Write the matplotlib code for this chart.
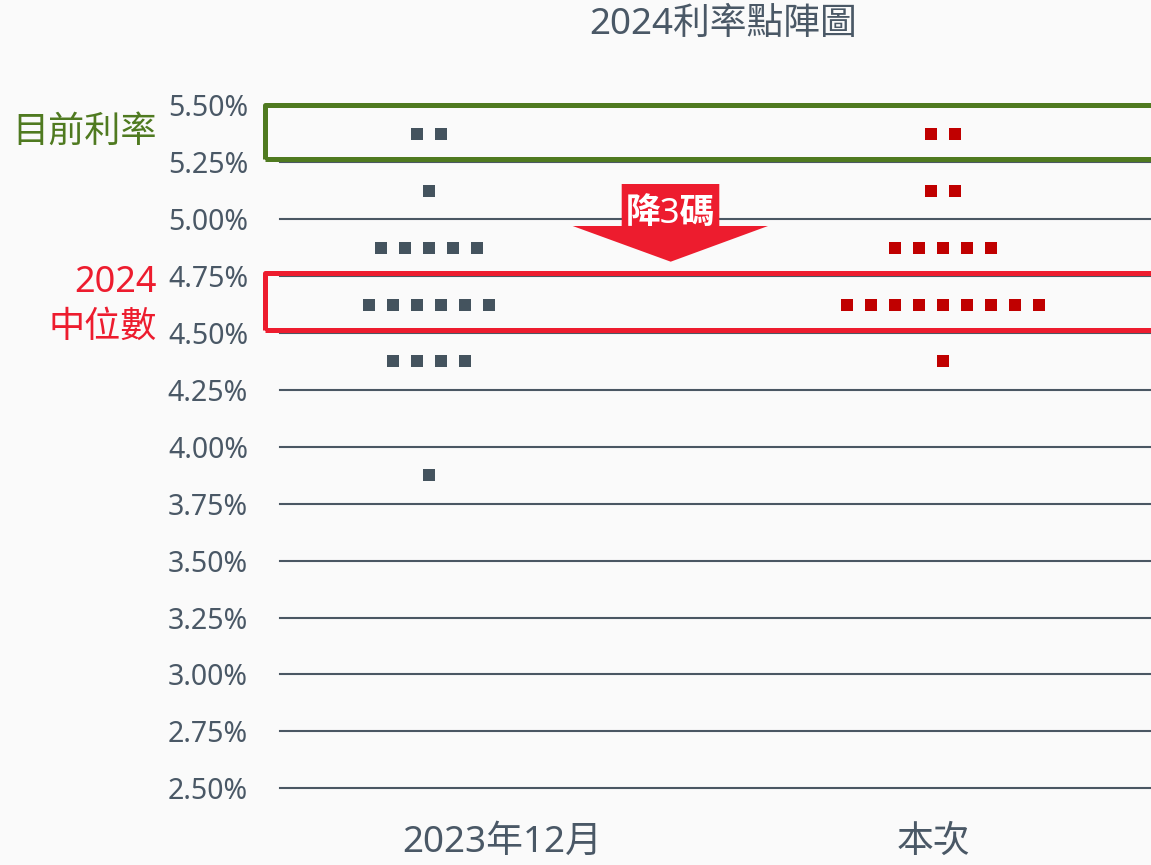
import matplotlib
matplotlib.use('Agg')
import matplotlib.pyplot as plt
from matplotlib.patches import Polygon, Rectangle
import matplotlib.transforms as mtrans

plt.rcParams['font.family'] = ['Noto Sans', 'Noto Sans CJK TC', 'DejaVu Sans']

# ---------------- data ----------------
title = '2024利率點陣圖'
categories = ['2023年12月', '本次']
rate_ticks = [2.50, 2.75, 3.00, 3.25, 3.50, 3.75, 4.00, 4.25, 4.50, 4.75, 5.00, 5.25, 5.50]
tick_labels = ['2.50%', '2.75%', '3.00%', '3.25%', '3.50%', '3.75%', '4.00%',
               '4.25%', '4.50%', '4.75%', '5.00%', '5.25%', '5.50%']

dec_rates = [5.375, 5.125, 4.875, 4.625, 4.375, 3.875]
dec_counts = [2, 1, 5, 6, 4, 1]
now_rates = [5.375, 5.125, 4.875, 4.625, 4.375]
now_counts = [2, 2, 5, 9, 1]

current_label = '目前利率'
median_label_top = '2024'
median_label_bottom = '中位數'
arrow_text = '降3碼'

# ---------------- style ----------------
BG = '#fafafa'
TEXT = '#4a5866'
GRID = '#4a5763'
DOT_DEC = '#44535e'
DOT_NOW = '#c00000'
GREEN = '#4f7a20'
RED = '#ed1c2e'

W, H = 1151, 865
fig = plt.figure(figsize=(W / 100, H / 100), dpi=100, facecolor=BG)

ax_left, ax_right = 280, 1151
ax_top, ax_bottom = 105.4, 788.3
ax = fig.add_axes([ax_left / W, (H - ax_bottom) / H, (ax_right - ax_left) / W, (ax_bottom - ax_top) / H])
ax.set_xlim(0, 2)
ax.set_ylim(2.5, 5.5)
ax.set_facecolor('none')
for s in ax.spines.values():
    s.set_visible(False)

# gridlines
for r in rate_ticks:
    ax.axhline(r, xmin=0, xmax=1, color=GRID, lw=1.5, clip_on=False, zorder=1)

# ticks
ax.set_yticks(rate_ticks, tick_labels)
ax.tick_params(axis='y', length=0, pad=23, labelsize=20.5, labelcolor=TEXT)
ax.set_xticks([0.51, 1.5], categories)
ax.tick_params(axis='x', length=0, pad=26, labelsize=26.5, labelcolor=TEXT)

# dots
px_per_unit = (ax_right - ax_left) / 2.0
spacing = 24 / px_per_unit
centers = [(428.5 - ax_left) / px_per_unit, (943 - ax_left) / px_per_unit]
msize = (12 * 0.72) ** 2


def dot_positions(rates, counts, cx):
    xs, ys = [], []
    for r, n in zip(rates, counts):
        for i in range(n):
            xs.append(cx + (i - (n - 1) / 2) * spacing)
            ys.append(r)
    return xs, ys


xs, ys = dot_positions(dec_rates, dec_counts, centers[0])
ax.scatter(xs, ys, marker='s', s=msize, color=DOT_DEC, linewidths=0, zorder=3, clip_on=False)
xs, ys = dot_positions(now_rates, now_counts, centers[1])
ax.scatter(xs, ys, marker='s', s=msize, color=DOT_NOW, linewidths=0, zorder=3, clip_on=False)

# highlight boxes (data y, data x)
box_x0 = (265 - ax_left) / px_per_unit
for (y0, y1), col in [((5.266, 5.503), GREEN), ((4.515, 4.762), RED)]:
    rect = Rectangle((box_x0, y0), 2.2 - box_x0, y1 - y0, fill=False, edgecolor=col,
                     lw=3.6, joinstyle='round', zorder=2, clip_on=False)
    ax.add_patch(rect)

# arrow (figure pixel coords)
pix = mtrans.Affine2D().scale(1 / W, -1 / H).translate(0, 1) + fig.transFigure
arrow_pts = [(621.7, 184), (719.3, 184), (719.3, 226), (768, 226), (670.7, 261.7),
             (572.7, 226), (621.7, 226)]
fig.add_artist(Polygon(arrow_pts, closed=True, facecolor=RED, edgecolor='none',
                       transform=pix, zorder=4))
fig.text(670 / W, 1 - 214 / H, arrow_text, ha='center', va='center', color='white',
         fontsize=25, fontweight='bold', zorder=5)

# title
fig.text(723 / W, 1 - 25 / H, title, ha='center', va='center', color=TEXT, fontsize=26.5)

# left annotations
fig.text(157 / W, 1 - 133 / H, current_label, ha='right', va='center', color=GREEN, fontsize=26)
fig.text(157 / W, 1 - 283.5 / H, median_label_top, ha='right', va='center', color=RED, fontsize=26)
fig.text(157 / W, 1 - 328 / H, median_label_bottom, ha='right', va='center', color=RED, fontsize=26)

fig.savefig('out.png', dpi=100, facecolor=BG)
